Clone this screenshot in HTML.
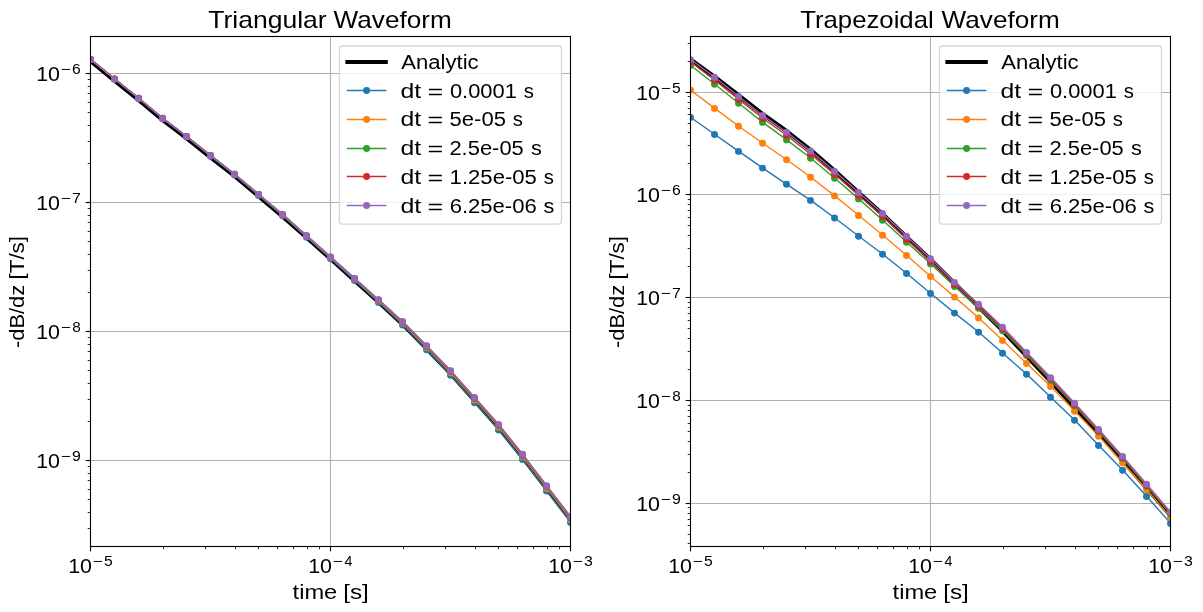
<!DOCTYPE html>
<html><head><meta charset="utf-8"><title>Waveforms</title>
<style>
html,body{margin:0;padding:0;background:#fff;overflow:hidden;}
svg{display:block;will-change:transform;}
text{font-family:"Liberation Sans", sans-serif;fill:#000;}
</style></head>
<body>
<svg width="1203" height="612" viewBox="0 0 1203 612">
<rect x="0" y="0" width="1203" height="612" fill="#ffffff"/>
<defs>
<clipPath id="clip0"><rect x="90.5" y="36.5" width="480" height="510"/></clipPath>
<clipPath id="clip1"><rect x="690.5" y="36.5" width="480" height="510"/></clipPath>
</defs>
<g id="panel0">
<rect x="90.5" y="36.5" width="480" height="510" fill="#ffffff"/>
<g stroke="#b0b0b0" stroke-width="1.11" clip-path="url(#clip0)">
<line x1="330.5" y1="36.5" x2="330.5" y2="546.5"/>
<line x1="90.5" y1="73.5" x2="570.5" y2="73.5"/>
<line x1="90.5" y1="202.5" x2="570.5" y2="202.5"/>
<line x1="90.5" y1="331.5" x2="570.5" y2="331.5"/>
<line x1="90.5" y1="460.5" x2="570.5" y2="460.5"/>
</g>
<g stroke="#000" stroke-width="1.11">
<line x1="90.5" y1="546.5" x2="90.5" y2="551.36"/>
<line x1="330.5" y1="546.5" x2="330.5" y2="551.36"/>
<line x1="570.5" y1="546.5" x2="570.5" y2="551.36"/>
<line x1="85.64" y1="73.5" x2="90.5" y2="73.5"/>
<line x1="85.64" y1="202.5" x2="90.5" y2="202.5"/>
<line x1="85.64" y1="331.5" x2="90.5" y2="331.5"/>
<line x1="85.64" y1="460.5" x2="90.5" y2="460.5"/>
</g>
<g stroke="#000" stroke-width="0.83">
<line x1="163.5" y1="546.5" x2="163.5" y2="549.28"/>
<line x1="205.5" y1="546.5" x2="205.5" y2="549.28"/>
<line x1="235.5" y1="546.5" x2="235.5" y2="549.28"/>
<line x1="258.5" y1="546.5" x2="258.5" y2="549.28"/>
<line x1="277.5" y1="546.5" x2="277.5" y2="549.28"/>
<line x1="293.5" y1="546.5" x2="293.5" y2="549.28"/>
<line x1="307.5" y1="546.5" x2="307.5" y2="549.28"/>
<line x1="319.5" y1="546.5" x2="319.5" y2="549.28"/>
<line x1="403.5" y1="546.5" x2="403.5" y2="549.28"/>
<line x1="445.5" y1="546.5" x2="445.5" y2="549.28"/>
<line x1="475.5" y1="546.5" x2="475.5" y2="549.28"/>
<line x1="498.5" y1="546.5" x2="498.5" y2="549.28"/>
<line x1="517.5" y1="546.5" x2="517.5" y2="549.28"/>
<line x1="533.5" y1="546.5" x2="533.5" y2="549.28"/>
<line x1="547.5" y1="546.5" x2="547.5" y2="549.28"/>
<line x1="559.5" y1="546.5" x2="559.5" y2="549.28"/>
<line x1="87.72" y1="528.5" x2="90.5" y2="528.5"/>
<line x1="87.72" y1="512.5" x2="90.5" y2="512.5"/>
<line x1="87.72" y1="499.5" x2="90.5" y2="499.5"/>
<line x1="87.72" y1="489.5" x2="90.5" y2="489.5"/>
<line x1="87.72" y1="480.5" x2="90.5" y2="480.5"/>
<line x1="87.72" y1="473.5" x2="90.5" y2="473.5"/>
<line x1="87.72" y1="466.5" x2="90.5" y2="466.5"/>
<line x1="87.72" y1="421.5" x2="90.5" y2="421.5"/>
<line x1="87.72" y1="399.5" x2="90.5" y2="399.5"/>
<line x1="87.72" y1="383.5" x2="90.5" y2="383.5"/>
<line x1="87.72" y1="370.5" x2="90.5" y2="370.5"/>
<line x1="87.72" y1="360.5" x2="90.5" y2="360.5"/>
<line x1="87.72" y1="351.5" x2="90.5" y2="351.5"/>
<line x1="87.72" y1="344.5" x2="90.5" y2="344.5"/>
<line x1="87.72" y1="337.5" x2="90.5" y2="337.5"/>
<line x1="87.72" y1="292.5" x2="90.5" y2="292.5"/>
<line x1="87.72" y1="270.5" x2="90.5" y2="270.5"/>
<line x1="87.72" y1="254.5" x2="90.5" y2="254.5"/>
<line x1="87.72" y1="241.5" x2="90.5" y2="241.5"/>
<line x1="87.72" y1="231.5" x2="90.5" y2="231.5"/>
<line x1="87.72" y1="222.5" x2="90.5" y2="222.5"/>
<line x1="87.72" y1="215.5" x2="90.5" y2="215.5"/>
<line x1="87.72" y1="208.5" x2="90.5" y2="208.5"/>
<line x1="87.72" y1="163.5" x2="90.5" y2="163.5"/>
<line x1="87.72" y1="141.5" x2="90.5" y2="141.5"/>
<line x1="87.72" y1="125.5" x2="90.5" y2="125.5"/>
<line x1="87.72" y1="112.5" x2="90.5" y2="112.5"/>
<line x1="87.72" y1="102.5" x2="90.5" y2="102.5"/>
<line x1="87.72" y1="93.5" x2="90.5" y2="93.5"/>
<line x1="87.72" y1="86.5" x2="90.5" y2="86.5"/>
<line x1="87.72" y1="79.5" x2="90.5" y2="79.5"/>
</g>
<g clip-path="url(#clip0)" fill="none" stroke-linejoin="round">
<polyline points="90.8,61.3 114.8,80.9 138.8,100.1 162.8,120.1 186.8,138.3 210.8,157.5 234.8,176.1 258.8,196.4 282.8,216.6 306.8,237.8 330.8,259 354.8,280.7 378.8,302.3 402.8,324.4 426.8,348.7 450.8,373.8 474.8,400.9 498.8,427.9 522.8,457.7 546.8,489 570.8,520" stroke="#000" stroke-width="4.17" stroke-linecap="square"/>
<polyline points="90.8,59.6 114.8,79.2 138.8,98.5 162.8,118.6 186.8,136.9 210.8,156.2 234.8,175.1 258.8,195.5 282.8,215.8 306.8,237.2 330.8,258.7 354.8,280.6 378.8,302.6 402.8,325 426.8,349.7 450.8,375.2 474.8,402.7 498.8,430.1 522.8,459.6 546.8,491.1 570.8,522.6" stroke="#1f77b4" stroke-width="1.39" stroke-linecap="square"/>
<g fill="#1f77b4" stroke="none"><circle cx="90.5" cy="59.6" r="3.47"/><circle cx="114.5" cy="79.2" r="3.47"/><circle cx="138.5" cy="98.5" r="3.47"/><circle cx="162.5" cy="118.6" r="3.47"/><circle cx="186.5" cy="136.9" r="3.47"/><circle cx="210.5" cy="156.2" r="3.47"/><circle cx="234.5" cy="175.1" r="3.47"/><circle cx="258.5" cy="195.5" r="3.47"/><circle cx="282.5" cy="215.8" r="3.47"/><circle cx="306.5" cy="237.2" r="3.47"/><circle cx="330.5" cy="258.7" r="3.47"/><circle cx="354.5" cy="280.6" r="3.47"/><circle cx="378.5" cy="302.6" r="3.47"/><circle cx="402.5" cy="325" r="3.47"/><circle cx="426.5" cy="349.7" r="3.47"/><circle cx="450.5" cy="375.2" r="3.47"/><circle cx="474.5" cy="402.7" r="3.47"/><circle cx="498.5" cy="430.1" r="3.47"/><circle cx="522.5" cy="459.6" r="3.47"/><circle cx="546.5" cy="491.1" r="3.47"/><circle cx="570.5" cy="522.6" r="3.47"/></g>
<polyline points="90.8,59.4 114.8,79 138.8,98.25 162.8,118.3 186.8,136.55 210.8,155.75 234.8,174.5 258.8,194.8 282.8,215 306.8,236.25 330.8,257.6 354.8,279.3 378.8,301 402.8,323.1 426.8,347.5 450.8,372.7 474.8,399.9 498.8,427.05 522.8,456.75 546.8,488.2 570.8,519.45" stroke="#ff7f0e" stroke-width="1.39" stroke-linecap="square"/>
<g fill="#ff7f0e" stroke="none"><circle cx="90.5" cy="59.4" r="3.47"/><circle cx="114.5" cy="79" r="3.47"/><circle cx="138.5" cy="98.25" r="3.47"/><circle cx="162.5" cy="118.3" r="3.47"/><circle cx="186.5" cy="136.55" r="3.47"/><circle cx="210.5" cy="155.75" r="3.47"/><circle cx="234.5" cy="174.5" r="3.47"/><circle cx="258.5" cy="194.8" r="3.47"/><circle cx="282.5" cy="215" r="3.47"/><circle cx="306.5" cy="236.25" r="3.47"/><circle cx="330.5" cy="257.6" r="3.47"/><circle cx="354.5" cy="279.3" r="3.47"/><circle cx="378.5" cy="301" r="3.47"/><circle cx="402.5" cy="323.1" r="3.47"/><circle cx="426.5" cy="347.5" r="3.47"/><circle cx="450.5" cy="372.7" r="3.47"/><circle cx="474.5" cy="399.9" r="3.47"/><circle cx="498.5" cy="427.05" r="3.47"/><circle cx="522.5" cy="456.75" r="3.47"/><circle cx="546.5" cy="488.2" r="3.47"/><circle cx="570.5" cy="519.45" r="3.47"/></g>
<polyline points="90.8,59.4 114.8,79 138.8,98.23 162.8,118.25 186.8,136.47 210.8,155.62 234.8,174.3 258.8,194.55 282.8,214.7 306.8,235.88 330.8,257.15 354.8,278.75 378.8,300.3 402.8,322.25 426.8,346.5 450.8,371.55 474.8,398.6 498.8,425.62 522.8,455.43 546.8,486.85 570.8,517.98" stroke="#2ca02c" stroke-width="1.39" stroke-linecap="square"/>
<g fill="#2ca02c" stroke="none"><circle cx="90.5" cy="59.4" r="3.47"/><circle cx="114.5" cy="79" r="3.47"/><circle cx="138.5" cy="98.23" r="3.47"/><circle cx="162.5" cy="118.25" r="3.47"/><circle cx="186.5" cy="136.47" r="3.47"/><circle cx="210.5" cy="155.62" r="3.47"/><circle cx="234.5" cy="174.3" r="3.47"/><circle cx="258.5" cy="194.55" r="3.47"/><circle cx="282.5" cy="214.7" r="3.47"/><circle cx="306.5" cy="235.88" r="3.47"/><circle cx="330.5" cy="257.15" r="3.47"/><circle cx="354.5" cy="278.75" r="3.47"/><circle cx="378.5" cy="300.3" r="3.47"/><circle cx="402.5" cy="322.25" r="3.47"/><circle cx="426.5" cy="346.5" r="3.47"/><circle cx="450.5" cy="371.55" r="3.47"/><circle cx="474.5" cy="398.6" r="3.47"/><circle cx="498.5" cy="425.62" r="3.47"/><circle cx="522.5" cy="455.43" r="3.47"/><circle cx="546.5" cy="486.85" r="3.47"/><circle cx="570.5" cy="517.98" r="3.47"/></g>
<polyline points="90.8,59.4 114.8,79 138.8,98.21 162.8,118.22 186.8,136.44 210.8,155.56 234.8,174.2 258.8,194.42 282.8,214.54 306.8,235.68 330.8,256.92 354.8,278.46 378.8,299.94 402.8,321.81 426.8,345.98 450.8,370.95 474.8,397.92 498.8,424.88 522.8,454.74 546.8,486.15 570.8,517.21" stroke="#d62728" stroke-width="1.39" stroke-linecap="square"/>
<g fill="#d62728" stroke="none"><circle cx="90.5" cy="59.4" r="3.47"/><circle cx="114.5" cy="79" r="3.47"/><circle cx="138.5" cy="98.21" r="3.47"/><circle cx="162.5" cy="118.22" r="3.47"/><circle cx="186.5" cy="136.44" r="3.47"/><circle cx="210.5" cy="155.56" r="3.47"/><circle cx="234.5" cy="174.2" r="3.47"/><circle cx="258.5" cy="194.42" r="3.47"/><circle cx="282.5" cy="214.54" r="3.47"/><circle cx="306.5" cy="235.68" r="3.47"/><circle cx="330.5" cy="256.92" r="3.47"/><circle cx="354.5" cy="278.46" r="3.47"/><circle cx="378.5" cy="299.94" r="3.47"/><circle cx="402.5" cy="321.81" r="3.47"/><circle cx="426.5" cy="345.98" r="3.47"/><circle cx="450.5" cy="370.95" r="3.47"/><circle cx="474.5" cy="397.92" r="3.47"/><circle cx="498.5" cy="424.88" r="3.47"/><circle cx="522.5" cy="454.74" r="3.47"/><circle cx="546.5" cy="486.15" r="3.47"/><circle cx="570.5" cy="517.21" r="3.47"/></g>
<polyline points="90.8,59.6 114.8,79.2 138.8,98.4 162.8,118.4 186.8,136.6 210.8,155.7 234.8,174.3 258.8,194.5 282.8,214.6 306.8,235.7 330.8,256.9 354.8,278.4 378.8,299.8 402.8,321.6 426.8,345.7 450.8,370.6 474.8,397.5 498.8,424.4 522.8,454.3 546.8,485.7 570.8,516.7" stroke="#9467bd" stroke-width="1.39" stroke-linecap="square"/>
<g fill="#9467bd" stroke="none"><circle cx="90.5" cy="59.6" r="3.47"/><circle cx="114.5" cy="79.2" r="3.47"/><circle cx="138.5" cy="98.4" r="3.47"/><circle cx="162.5" cy="118.4" r="3.47"/><circle cx="186.5" cy="136.6" r="3.47"/><circle cx="210.5" cy="155.7" r="3.47"/><circle cx="234.5" cy="174.3" r="3.47"/><circle cx="258.5" cy="194.5" r="3.47"/><circle cx="282.5" cy="214.6" r="3.47"/><circle cx="306.5" cy="235.7" r="3.47"/><circle cx="330.5" cy="256.9" r="3.47"/><circle cx="354.5" cy="278.4" r="3.47"/><circle cx="378.5" cy="299.8" r="3.47"/><circle cx="402.5" cy="321.6" r="3.47"/><circle cx="426.5" cy="345.7" r="3.47"/><circle cx="450.5" cy="370.6" r="3.47"/><circle cx="474.5" cy="397.5" r="3.47"/><circle cx="498.5" cy="424.4" r="3.47"/><circle cx="522.5" cy="454.3" r="3.47"/><circle cx="546.5" cy="485.7" r="3.47"/><circle cx="570.5" cy="516.7" r="3.47"/></g>
</g>
<rect x="90.5" y="36.5" width="480" height="510" fill="none" stroke="#000" stroke-width="1.11"/>
<text x="68.2" y="572.9" font-size="20" textLength="23.79" lengthAdjust="spacingAndGlyphs">10</text>
<text x="92.69" y="565.9" font-size="14" textLength="9.91" lengthAdjust="spacingAndGlyphs">−</text>
<text x="103.97" y="565.9" font-size="14" textLength="8.73" lengthAdjust="spacingAndGlyphs">5</text>
<text x="308.2" y="572.9" font-size="20" textLength="23.79" lengthAdjust="spacingAndGlyphs">10</text>
<text x="332.69" y="565.9" font-size="14" textLength="9.91" lengthAdjust="spacingAndGlyphs">−</text>
<text x="344.59" y="565.9" font-size="14" textLength="7.94" lengthAdjust="spacingAndGlyphs">4</text>
<text x="548.2" y="572.9" font-size="20" textLength="23.79" lengthAdjust="spacingAndGlyphs">10</text>
<text x="572.69" y="565.9" font-size="14" textLength="9.91" lengthAdjust="spacingAndGlyphs">−</text>
<text x="584.11" y="565.9" font-size="14" textLength="8.85" lengthAdjust="spacingAndGlyphs">3</text>
<text x="36.2" y="80.9" font-size="20" textLength="23.79" lengthAdjust="spacingAndGlyphs">10</text>
<text x="60.69" y="73.9" font-size="14" textLength="9.91" lengthAdjust="spacingAndGlyphs">−</text>
<text x="72.11" y="73.9" font-size="14" textLength="8.75" lengthAdjust="spacingAndGlyphs">6</text>
<text x="36.2" y="209.9" font-size="20" textLength="23.79" lengthAdjust="spacingAndGlyphs">10</text>
<text x="60.69" y="202.9" font-size="14" textLength="9.91" lengthAdjust="spacingAndGlyphs">−</text>
<text x="72.11" y="202.9" font-size="14" textLength="8.82" lengthAdjust="spacingAndGlyphs">7</text>
<text x="36.2" y="338.9" font-size="20" textLength="23.79" lengthAdjust="spacingAndGlyphs">10</text>
<text x="60.69" y="331.9" font-size="14" textLength="9.91" lengthAdjust="spacingAndGlyphs">−</text>
<text x="72.2" y="331.9" font-size="14" textLength="8.52" lengthAdjust="spacingAndGlyphs">8</text>
<text x="36.2" y="467.9" font-size="20" textLength="23.79" lengthAdjust="spacingAndGlyphs">10</text>
<text x="60.69" y="460.9" font-size="14" textLength="9.91" lengthAdjust="spacingAndGlyphs">−</text>
<text x="72.14" y="460.9" font-size="14" textLength="8.83" lengthAdjust="spacingAndGlyphs">9</text>
<text x="292.6" y="598.7" font-size="20" textLength="44.7" lengthAdjust="spacingAndGlyphs">time</text>
<text x="343.2" y="598.7" font-size="20" textLength="25.6" lengthAdjust="spacingAndGlyphs">[s]</text>
<text transform="translate(23.9,348.07) rotate(-90)" font-size="20" textLength="63.31" lengthAdjust="spacingAndGlyphs">-dB/dz</text>
<text transform="translate(23.9,279.55) rotate(-90)" font-size="20" textLength="43.6" lengthAdjust="spacingAndGlyphs">[T/s]</text>
<text x="208.2" y="27.7" font-size="24" textLength="118.5" lengthAdjust="spacingAndGlyphs">Triangular</text>
<text x="333.62" y="27.7" font-size="24" textLength="118.16" lengthAdjust="spacingAndGlyphs">Waveform</text>
<rect x="339.4" y="46" width="222.1" height="178.1" rx="2.8" ry="2.8" fill="#ffffff" fill-opacity="0.8" stroke="#cccccc" stroke-opacity="0.8" stroke-width="1.39"/>
<line x1="347.5" y1="62" x2="385.7" y2="62" stroke="#000" stroke-width="4.17" stroke-linecap="square"/>
<text x="401.28" y="69" font-size="20" textLength="77.36" lengthAdjust="spacingAndGlyphs">Analytic</text>
<line x1="347.5" y1="90.5" x2="385.7" y2="90.5" stroke="#1f77b4" stroke-width="1.39" stroke-linecap="square"/>
<circle cx="366.6" cy="90.5" r="3.47" fill="#1f77b4"/>
<text x="400.48" y="97.8" font-size="20" textLength="20.64" lengthAdjust="spacingAndGlyphs">dt</text>
<text x="427.6" y="98.8" font-size="20" textLength="15.73" lengthAdjust="spacingAndGlyphs">=</text>
<text x="449.94" y="97.8" font-size="20" textLength="66.91" lengthAdjust="spacingAndGlyphs">0.0001</text>
<text x="523.86" y="97.8" font-size="20" textLength="10.15" lengthAdjust="spacingAndGlyphs">s</text>
<line x1="347.5" y1="119.5" x2="385.7" y2="119.5" stroke="#ff7f0e" stroke-width="1.39" stroke-linecap="square"/>
<circle cx="366.6" cy="119.5" r="3.47" fill="#ff7f0e"/>
<text x="400.48" y="126.4" font-size="20" textLength="20.64" lengthAdjust="spacingAndGlyphs">dt</text>
<text x="427.6" y="127.4" font-size="20" textLength="15.73" lengthAdjust="spacingAndGlyphs">=</text>
<text x="449.52" y="126.4" font-size="20" textLength="56.41" lengthAdjust="spacingAndGlyphs">5e-05</text>
<text x="512.86" y="126.4" font-size="20" textLength="10.15" lengthAdjust="spacingAndGlyphs">s</text>
<line x1="347.5" y1="148.5" x2="385.7" y2="148.5" stroke="#2ca02c" stroke-width="1.39" stroke-linecap="square"/>
<circle cx="366.6" cy="148.5" r="3.47" fill="#2ca02c"/>
<text x="400.48" y="155.2" font-size="20" textLength="20.64" lengthAdjust="spacingAndGlyphs">dt</text>
<text x="427.6" y="156.2" font-size="20" textLength="15.73" lengthAdjust="spacingAndGlyphs">=</text>
<text x="449.45" y="155.2" font-size="20" textLength="74.33" lengthAdjust="spacingAndGlyphs">2.5e-05</text>
<text x="530.97" y="155.2" font-size="20" textLength="10.79" lengthAdjust="spacingAndGlyphs">s</text>
<line x1="347.5" y1="176.5" x2="385.7" y2="176.5" stroke="#d62728" stroke-width="1.39" stroke-linecap="square"/>
<circle cx="366.6" cy="176.5" r="3.47" fill="#d62728"/>
<text x="400.48" y="183.9" font-size="20" textLength="20.64" lengthAdjust="spacingAndGlyphs">dt</text>
<text x="427.6" y="184.9" font-size="20" textLength="15.73" lengthAdjust="spacingAndGlyphs">=</text>
<text x="449.61" y="183.9" font-size="20" textLength="87.33" lengthAdjust="spacingAndGlyphs">1.25e-05</text>
<text x="543.86" y="183.9" font-size="20" textLength="10.15" lengthAdjust="spacingAndGlyphs">s</text>
<line x1="347.5" y1="205.5" x2="385.7" y2="205.5" stroke="#9467bd" stroke-width="1.39" stroke-linecap="square"/>
<circle cx="366.6" cy="205.5" r="3.47" fill="#9467bd"/>
<text x="400.49" y="212.6" font-size="20" textLength="20.79" lengthAdjust="spacingAndGlyphs">dt</text>
<text x="427.6" y="213.6" font-size="20" textLength="15.73" lengthAdjust="spacingAndGlyphs">=</text>
<text x="449.65" y="212.6" font-size="20" textLength="87.12" lengthAdjust="spacingAndGlyphs">6.25e-06</text>
<text x="543.48" y="212.6" font-size="20" textLength="10.81" lengthAdjust="spacingAndGlyphs">s</text>
</g>
<g id="panel1">
<rect x="690.5" y="36.5" width="480" height="510" fill="#ffffff"/>
<g stroke="#b0b0b0" stroke-width="1.11" clip-path="url(#clip1)">
<line x1="930.5" y1="36.5" x2="930.5" y2="546.5"/>
<line x1="690.5" y1="92.5" x2="1170.5" y2="92.5"/>
<line x1="690.5" y1="194.5" x2="1170.5" y2="194.5"/>
<line x1="690.5" y1="297.5" x2="1170.5" y2="297.5"/>
<line x1="690.5" y1="400.5" x2="1170.5" y2="400.5"/>
<line x1="690.5" y1="503.5" x2="1170.5" y2="503.5"/>
</g>
<g stroke="#000" stroke-width="1.11">
<line x1="690.5" y1="546.5" x2="690.5" y2="551.36"/>
<line x1="930.5" y1="546.5" x2="930.5" y2="551.36"/>
<line x1="1170.5" y1="546.5" x2="1170.5" y2="551.36"/>
<line x1="685.64" y1="92.5" x2="690.5" y2="92.5"/>
<line x1="685.64" y1="194.5" x2="690.5" y2="194.5"/>
<line x1="685.64" y1="297.5" x2="690.5" y2="297.5"/>
<line x1="685.64" y1="400.5" x2="690.5" y2="400.5"/>
<line x1="685.64" y1="503.5" x2="690.5" y2="503.5"/>
</g>
<g stroke="#000" stroke-width="0.83">
<line x1="763.5" y1="546.5" x2="763.5" y2="549.28"/>
<line x1="805.5" y1="546.5" x2="805.5" y2="549.28"/>
<line x1="835.5" y1="546.5" x2="835.5" y2="549.28"/>
<line x1="858.5" y1="546.5" x2="858.5" y2="549.28"/>
<line x1="877.5" y1="546.5" x2="877.5" y2="549.28"/>
<line x1="893.5" y1="546.5" x2="893.5" y2="549.28"/>
<line x1="907.5" y1="546.5" x2="907.5" y2="549.28"/>
<line x1="919.5" y1="546.5" x2="919.5" y2="549.28"/>
<line x1="1003.5" y1="546.5" x2="1003.5" y2="549.28"/>
<line x1="1045.5" y1="546.5" x2="1045.5" y2="549.28"/>
<line x1="1075.5" y1="546.5" x2="1075.5" y2="549.28"/>
<line x1="1098.5" y1="546.5" x2="1098.5" y2="549.28"/>
<line x1="1117.5" y1="546.5" x2="1117.5" y2="549.28"/>
<line x1="1133.5" y1="546.5" x2="1133.5" y2="549.28"/>
<line x1="1147.5" y1="546.5" x2="1147.5" y2="549.28"/>
<line x1="1159.5" y1="546.5" x2="1159.5" y2="549.28"/>
<line x1="687.72" y1="543.5" x2="690.5" y2="543.5"/>
<line x1="687.72" y1="534.5" x2="690.5" y2="534.5"/>
<line x1="687.72" y1="525.5" x2="690.5" y2="525.5"/>
<line x1="687.72" y1="519.5" x2="690.5" y2="519.5"/>
<line x1="687.72" y1="513.5" x2="690.5" y2="513.5"/>
<line x1="687.72" y1="507.5" x2="690.5" y2="507.5"/>
<line x1="687.72" y1="472.5" x2="690.5" y2="472.5"/>
<line x1="687.72" y1="454.5" x2="690.5" y2="454.5"/>
<line x1="687.72" y1="441.5" x2="690.5" y2="441.5"/>
<line x1="687.72" y1="431.5" x2="690.5" y2="431.5"/>
<line x1="687.72" y1="423.5" x2="690.5" y2="423.5"/>
<line x1="687.72" y1="416.5" x2="690.5" y2="416.5"/>
<line x1="687.72" y1="410.5" x2="690.5" y2="410.5"/>
<line x1="687.72" y1="405.5" x2="690.5" y2="405.5"/>
<line x1="687.72" y1="369.5" x2="690.5" y2="369.5"/>
<line x1="687.72" y1="351.5" x2="690.5" y2="351.5"/>
<line x1="687.72" y1="338.5" x2="690.5" y2="338.5"/>
<line x1="687.72" y1="328.5" x2="690.5" y2="328.5"/>
<line x1="687.72" y1="320.5" x2="690.5" y2="320.5"/>
<line x1="687.72" y1="313.5" x2="690.5" y2="313.5"/>
<line x1="687.72" y1="307.5" x2="690.5" y2="307.5"/>
<line x1="687.72" y1="302.5" x2="690.5" y2="302.5"/>
<line x1="687.72" y1="266.5" x2="690.5" y2="266.5"/>
<line x1="687.72" y1="248.5" x2="690.5" y2="248.5"/>
<line x1="687.72" y1="235.5" x2="690.5" y2="235.5"/>
<line x1="687.72" y1="225.5" x2="690.5" y2="225.5"/>
<line x1="687.72" y1="217.5" x2="690.5" y2="217.5"/>
<line x1="687.72" y1="210.5" x2="690.5" y2="210.5"/>
<line x1="687.72" y1="204.5" x2="690.5" y2="204.5"/>
<line x1="687.72" y1="199.5" x2="690.5" y2="199.5"/>
<line x1="687.72" y1="163.5" x2="690.5" y2="163.5"/>
<line x1="687.72" y1="145.5" x2="690.5" y2="145.5"/>
<line x1="687.72" y1="132.5" x2="690.5" y2="132.5"/>
<line x1="687.72" y1="123.5" x2="690.5" y2="123.5"/>
<line x1="687.72" y1="114.5" x2="690.5" y2="114.5"/>
<line x1="687.72" y1="108.5" x2="690.5" y2="108.5"/>
<line x1="687.72" y1="102.5" x2="690.5" y2="102.5"/>
<line x1="687.72" y1="96.5" x2="690.5" y2="96.5"/>
<line x1="687.72" y1="61.5" x2="690.5" y2="61.5"/>
<line x1="687.72" y1="43.5" x2="690.5" y2="43.5"/>
</g>
<g clip-path="url(#clip1)" fill="none" stroke-linejoin="round">
<polyline points="690.8,59.6 714.8,77 738.8,95.5 762.8,114.2 786.8,131.3 810.8,150.2 834.8,170.9 858.8,192.8 882.8,214.2 906.8,237.3 930.8,259.7 954.8,283.7 978.8,306.9 1002.8,330.8 1026.8,356.2 1050.8,381.6 1074.8,407.5 1098.8,433.6 1122.8,460.5 1146.8,488.1 1170.8,515.8" stroke="#000" stroke-width="4.17" stroke-linecap="square"/>
<polyline points="690.8,117.5 714.8,134.5 738.8,151.4 762.8,168.1 786.8,184.3 810.8,200.4 834.8,218 858.8,236.3 882.8,254.3 906.8,273.5 930.8,293.5 954.8,313.1 978.8,332.2 1002.8,353.3 1026.8,374.3 1050.8,397.3 1074.8,420.2 1098.8,445.5 1122.8,470.2 1146.8,496.5 1170.8,523.5" stroke="#1f77b4" stroke-width="1.39" stroke-linecap="square"/>
<g fill="#1f77b4" stroke="none"><circle cx="690.5" cy="117.5" r="3.47"/><circle cx="714.5" cy="134.5" r="3.47"/><circle cx="738.5" cy="151.4" r="3.47"/><circle cx="762.5" cy="168.1" r="3.47"/><circle cx="786.5" cy="184.3" r="3.47"/><circle cx="810.5" cy="200.4" r="3.47"/><circle cx="834.5" cy="218" r="3.47"/><circle cx="858.5" cy="236.3" r="3.47"/><circle cx="882.5" cy="254.3" r="3.47"/><circle cx="906.5" cy="273.5" r="3.47"/><circle cx="930.5" cy="293.5" r="3.47"/><circle cx="954.5" cy="313.1" r="3.47"/><circle cx="978.5" cy="332.2" r="3.47"/><circle cx="1002.5" cy="353.3" r="3.47"/><circle cx="1026.5" cy="374.3" r="3.47"/><circle cx="1050.5" cy="397.3" r="3.47"/><circle cx="1074.5" cy="420.2" r="3.47"/><circle cx="1098.5" cy="445.5" r="3.47"/><circle cx="1122.5" cy="470.2" r="3.47"/><circle cx="1146.5" cy="496.5" r="3.47"/><circle cx="1170.5" cy="523.5" r="3.47"/></g>
<polyline points="690.8,90.3 714.8,108.4 738.8,126.3 762.8,143.3 786.8,159.7 810.8,177.3 834.8,195.9 858.8,215.5 882.8,235.2 906.8,255.5 930.8,276.5 954.8,297.1 978.8,318 1002.8,340.6 1026.8,363.5 1050.8,386.5 1074.8,411.2 1098.8,436.3 1122.8,462.7 1146.8,489.8 1170.8,517.6" stroke="#ff7f0e" stroke-width="1.39" stroke-linecap="square"/>
<g fill="#ff7f0e" stroke="none"><circle cx="690.5" cy="90.3" r="3.47"/><circle cx="714.5" cy="108.4" r="3.47"/><circle cx="738.5" cy="126.3" r="3.47"/><circle cx="762.5" cy="143.3" r="3.47"/><circle cx="786.5" cy="159.7" r="3.47"/><circle cx="810.5" cy="177.3" r="3.47"/><circle cx="834.5" cy="195.9" r="3.47"/><circle cx="858.5" cy="215.5" r="3.47"/><circle cx="882.5" cy="235.2" r="3.47"/><circle cx="906.5" cy="255.5" r="3.47"/><circle cx="930.5" cy="276.5" r="3.47"/><circle cx="954.5" cy="297.1" r="3.47"/><circle cx="978.5" cy="318" r="3.47"/><circle cx="1002.5" cy="340.6" r="3.47"/><circle cx="1026.5" cy="363.5" r="3.47"/><circle cx="1050.5" cy="386.5" r="3.47"/><circle cx="1074.5" cy="411.2" r="3.47"/><circle cx="1098.5" cy="436.3" r="3.47"/><circle cx="1122.5" cy="462.7" r="3.47"/><circle cx="1146.5" cy="489.8" r="3.47"/><circle cx="1170.5" cy="517.6" r="3.47"/></g>
<polyline points="690.8,65.5 714.8,84.3 738.8,103.3 762.8,122.4 786.8,139.9 810.8,158.2 834.8,178.2 858.8,198.9 882.8,220.2 906.8,242.2 930.8,264.1 954.8,286.6 978.8,308.2 1002.8,330.7 1026.8,355.4 1050.8,380.4 1074.8,405.8 1098.8,431.7 1122.8,458.6 1146.8,486.2 1170.8,514.1" stroke="#2ca02c" stroke-width="1.39" stroke-linecap="square"/>
<g fill="#2ca02c" stroke="none"><circle cx="690.5" cy="65.5" r="3.47"/><circle cx="714.5" cy="84.3" r="3.47"/><circle cx="738.5" cy="103.3" r="3.47"/><circle cx="762.5" cy="122.4" r="3.47"/><circle cx="786.5" cy="139.9" r="3.47"/><circle cx="810.5" cy="158.2" r="3.47"/><circle cx="834.5" cy="178.2" r="3.47"/><circle cx="858.5" cy="198.9" r="3.47"/><circle cx="882.5" cy="220.2" r="3.47"/><circle cx="906.5" cy="242.2" r="3.47"/><circle cx="930.5" cy="264.1" r="3.47"/><circle cx="954.5" cy="286.6" r="3.47"/><circle cx="978.5" cy="308.2" r="3.47"/><circle cx="1002.5" cy="330.7" r="3.47"/><circle cx="1026.5" cy="355.4" r="3.47"/><circle cx="1050.5" cy="380.4" r="3.47"/><circle cx="1074.5" cy="405.8" r="3.47"/><circle cx="1098.5" cy="431.7" r="3.47"/><circle cx="1122.5" cy="458.6" r="3.47"/><circle cx="1146.5" cy="486.2" r="3.47"/><circle cx="1170.5" cy="514.1" r="3.47"/></g>
<polyline points="690.8,62 714.8,80.3 738.8,99.4 762.8,118.3 786.8,135.5 810.8,154.3 834.8,174.4 858.8,195.5 882.8,216.5 906.8,239.2 930.8,261.6 954.8,284.5 978.8,306.2 1002.8,329 1026.8,353.9 1050.8,378.9 1074.8,404.5 1098.8,430.5 1122.8,457.5 1146.8,485.2 1170.8,513.1" stroke="#d62728" stroke-width="1.39" stroke-linecap="square"/>
<g fill="#d62728" stroke="none"><circle cx="690.5" cy="62" r="3.47"/><circle cx="714.5" cy="80.3" r="3.47"/><circle cx="738.5" cy="99.4" r="3.47"/><circle cx="762.5" cy="118.3" r="3.47"/><circle cx="786.5" cy="135.5" r="3.47"/><circle cx="810.5" cy="154.3" r="3.47"/><circle cx="834.5" cy="174.4" r="3.47"/><circle cx="858.5" cy="195.5" r="3.47"/><circle cx="882.5" cy="216.5" r="3.47"/><circle cx="906.5" cy="239.2" r="3.47"/><circle cx="930.5" cy="261.6" r="3.47"/><circle cx="954.5" cy="284.5" r="3.47"/><circle cx="978.5" cy="306.2" r="3.47"/><circle cx="1002.5" cy="329" r="3.47"/><circle cx="1026.5" cy="353.9" r="3.47"/><circle cx="1050.5" cy="378.9" r="3.47"/><circle cx="1074.5" cy="404.5" r="3.47"/><circle cx="1098.5" cy="430.5" r="3.47"/><circle cx="1122.5" cy="457.5" r="3.47"/><circle cx="1146.5" cy="485.2" r="3.47"/><circle cx="1170.5" cy="513.1" r="3.47"/></g>
<polyline points="690.8,59.6 714.8,77.3 738.8,96.5 762.8,115.5 786.8,132.3 810.8,151 834.8,171.4 858.8,192.5 882.8,213.4 906.8,236.3 930.8,258.8 954.8,282.4 978.8,304.3 1002.8,327.3 1026.8,352.4 1050.8,377.6 1074.8,403.3 1098.8,429.4 1122.8,456.5 1146.8,484.3 1170.8,512.3" stroke="#9467bd" stroke-width="1.39" stroke-linecap="square"/>
<g fill="#9467bd" stroke="none"><circle cx="690.5" cy="59.6" r="3.47"/><circle cx="714.5" cy="77.3" r="3.47"/><circle cx="738.5" cy="96.5" r="3.47"/><circle cx="762.5" cy="115.5" r="3.47"/><circle cx="786.5" cy="132.3" r="3.47"/><circle cx="810.5" cy="151" r="3.47"/><circle cx="834.5" cy="171.4" r="3.47"/><circle cx="858.5" cy="192.5" r="3.47"/><circle cx="882.5" cy="213.4" r="3.47"/><circle cx="906.5" cy="236.3" r="3.47"/><circle cx="930.5" cy="258.8" r="3.47"/><circle cx="954.5" cy="282.4" r="3.47"/><circle cx="978.5" cy="304.3" r="3.47"/><circle cx="1002.5" cy="327.3" r="3.47"/><circle cx="1026.5" cy="352.4" r="3.47"/><circle cx="1050.5" cy="377.6" r="3.47"/><circle cx="1074.5" cy="403.3" r="3.47"/><circle cx="1098.5" cy="429.4" r="3.47"/><circle cx="1122.5" cy="456.5" r="3.47"/><circle cx="1146.5" cy="484.3" r="3.47"/><circle cx="1170.5" cy="512.3" r="3.47"/></g>
</g>
<rect x="690.5" y="36.5" width="480" height="510" fill="none" stroke="#000" stroke-width="1.11"/>
<text x="668.2" y="572.9" font-size="20" textLength="23.79" lengthAdjust="spacingAndGlyphs">10</text>
<text x="692.69" y="565.9" font-size="14" textLength="9.91" lengthAdjust="spacingAndGlyphs">−</text>
<text x="703.97" y="565.9" font-size="14" textLength="8.73" lengthAdjust="spacingAndGlyphs">5</text>
<text x="908.2" y="572.9" font-size="20" textLength="23.79" lengthAdjust="spacingAndGlyphs">10</text>
<text x="932.69" y="565.9" font-size="14" textLength="9.91" lengthAdjust="spacingAndGlyphs">−</text>
<text x="944.59" y="565.9" font-size="14" textLength="7.94" lengthAdjust="spacingAndGlyphs">4</text>
<text x="1148.2" y="572.9" font-size="20" textLength="23.79" lengthAdjust="spacingAndGlyphs">10</text>
<text x="1172.69" y="565.9" font-size="14" textLength="9.91" lengthAdjust="spacingAndGlyphs">−</text>
<text x="1184.11" y="565.9" font-size="14" textLength="8.85" lengthAdjust="spacingAndGlyphs">3</text>
<text x="636.2" y="99.9" font-size="20" textLength="23.79" lengthAdjust="spacingAndGlyphs">10</text>
<text x="660.69" y="92.9" font-size="14" textLength="9.91" lengthAdjust="spacingAndGlyphs">−</text>
<text x="671.97" y="92.9" font-size="14" textLength="8.73" lengthAdjust="spacingAndGlyphs">5</text>
<text x="636.2" y="201.9" font-size="20" textLength="23.79" lengthAdjust="spacingAndGlyphs">10</text>
<text x="660.69" y="194.9" font-size="14" textLength="9.91" lengthAdjust="spacingAndGlyphs">−</text>
<text x="672.11" y="194.9" font-size="14" textLength="8.75" lengthAdjust="spacingAndGlyphs">6</text>
<text x="636.2" y="304.9" font-size="20" textLength="23.79" lengthAdjust="spacingAndGlyphs">10</text>
<text x="660.69" y="297.9" font-size="14" textLength="9.91" lengthAdjust="spacingAndGlyphs">−</text>
<text x="672.11" y="297.9" font-size="14" textLength="8.82" lengthAdjust="spacingAndGlyphs">7</text>
<text x="636.2" y="407.9" font-size="20" textLength="23.79" lengthAdjust="spacingAndGlyphs">10</text>
<text x="660.69" y="400.9" font-size="14" textLength="9.91" lengthAdjust="spacingAndGlyphs">−</text>
<text x="672.2" y="400.9" font-size="14" textLength="8.52" lengthAdjust="spacingAndGlyphs">8</text>
<text x="636.2" y="510.9" font-size="20" textLength="23.79" lengthAdjust="spacingAndGlyphs">10</text>
<text x="660.69" y="503.9" font-size="14" textLength="9.91" lengthAdjust="spacingAndGlyphs">−</text>
<text x="672.14" y="503.9" font-size="14" textLength="8.83" lengthAdjust="spacingAndGlyphs">9</text>
<text x="892.6" y="598.7" font-size="20" textLength="44.7" lengthAdjust="spacingAndGlyphs">time</text>
<text x="943.2" y="598.7" font-size="20" textLength="25.6" lengthAdjust="spacingAndGlyphs">[s]</text>
<text transform="translate(623.9,348.07) rotate(-90)" font-size="20" textLength="63.31" lengthAdjust="spacingAndGlyphs">-dB/dz</text>
<text transform="translate(623.9,279.55) rotate(-90)" font-size="20" textLength="43.6" lengthAdjust="spacingAndGlyphs">[T/s]</text>
<text x="800.2" y="27.7" font-size="24" textLength="133.5" lengthAdjust="spacingAndGlyphs">Trapezoidal</text>
<text x="941.62" y="27.7" font-size="24" textLength="118.16" lengthAdjust="spacingAndGlyphs">Waveform</text>
<rect x="939.4" y="46" width="222.1" height="178.1" rx="2.8" ry="2.8" fill="#ffffff" fill-opacity="0.8" stroke="#cccccc" stroke-opacity="0.8" stroke-width="1.39"/>
<line x1="947.5" y1="62" x2="985.7" y2="62" stroke="#000" stroke-width="4.17" stroke-linecap="square"/>
<text x="1001.28" y="69" font-size="20" textLength="77.36" lengthAdjust="spacingAndGlyphs">Analytic</text>
<line x1="947.5" y1="90.5" x2="985.7" y2="90.5" stroke="#1f77b4" stroke-width="1.39" stroke-linecap="square"/>
<circle cx="966.6" cy="90.5" r="3.47" fill="#1f77b4"/>
<text x="1000.54" y="97.8" font-size="20" textLength="20.61" lengthAdjust="spacingAndGlyphs">dt</text>
<text x="1027.6" y="98.8" font-size="20" textLength="15.73" lengthAdjust="spacingAndGlyphs">=</text>
<text x="1049.94" y="97.8" font-size="20" textLength="66.91" lengthAdjust="spacingAndGlyphs">0.0001</text>
<text x="1123.86" y="97.8" font-size="20" textLength="10.15" lengthAdjust="spacingAndGlyphs">s</text>
<line x1="947.5" y1="119.5" x2="985.7" y2="119.5" stroke="#ff7f0e" stroke-width="1.39" stroke-linecap="square"/>
<circle cx="966.6" cy="119.5" r="3.47" fill="#ff7f0e"/>
<text x="1000.48" y="126.4" font-size="20" textLength="20.64" lengthAdjust="spacingAndGlyphs">dt</text>
<text x="1027.6" y="127.4" font-size="20" textLength="15.73" lengthAdjust="spacingAndGlyphs">=</text>
<text x="1049.52" y="126.4" font-size="20" textLength="56.41" lengthAdjust="spacingAndGlyphs">5e-05</text>
<text x="1112.86" y="126.4" font-size="20" textLength="10.15" lengthAdjust="spacingAndGlyphs">s</text>
<line x1="947.5" y1="148.5" x2="985.7" y2="148.5" stroke="#2ca02c" stroke-width="1.39" stroke-linecap="square"/>
<circle cx="966.6" cy="148.5" r="3.47" fill="#2ca02c"/>
<text x="1000.48" y="155.2" font-size="20" textLength="20.64" lengthAdjust="spacingAndGlyphs">dt</text>
<text x="1027.6" y="156.2" font-size="20" textLength="15.73" lengthAdjust="spacingAndGlyphs">=</text>
<text x="1049.45" y="155.2" font-size="20" textLength="74.33" lengthAdjust="spacingAndGlyphs">2.5e-05</text>
<text x="1130.97" y="155.2" font-size="20" textLength="10.79" lengthAdjust="spacingAndGlyphs">s</text>
<line x1="947.5" y1="176.5" x2="985.7" y2="176.5" stroke="#d62728" stroke-width="1.39" stroke-linecap="square"/>
<circle cx="966.6" cy="176.5" r="3.47" fill="#d62728"/>
<text x="1000.48" y="183.9" font-size="20" textLength="20.64" lengthAdjust="spacingAndGlyphs">dt</text>
<text x="1027.6" y="184.9" font-size="20" textLength="15.73" lengthAdjust="spacingAndGlyphs">=</text>
<text x="1049.61" y="183.9" font-size="20" textLength="87.33" lengthAdjust="spacingAndGlyphs">1.25e-05</text>
<text x="1143.86" y="183.9" font-size="20" textLength="10.15" lengthAdjust="spacingAndGlyphs">s</text>
<line x1="947.5" y1="205.5" x2="985.7" y2="205.5" stroke="#9467bd" stroke-width="1.39" stroke-linecap="square"/>
<circle cx="966.6" cy="205.5" r="3.47" fill="#9467bd"/>
<text x="1000.48" y="212.6" font-size="20" textLength="20.64" lengthAdjust="spacingAndGlyphs">dt</text>
<text x="1027.6" y="213.6" font-size="20" textLength="15.73" lengthAdjust="spacingAndGlyphs">=</text>
<text x="1049.65" y="212.6" font-size="20" textLength="87.12" lengthAdjust="spacingAndGlyphs">6.25e-06</text>
<text x="1143.48" y="212.6" font-size="20" textLength="10.81" lengthAdjust="spacingAndGlyphs">s</text>
</g>
</svg>
</body></html>
